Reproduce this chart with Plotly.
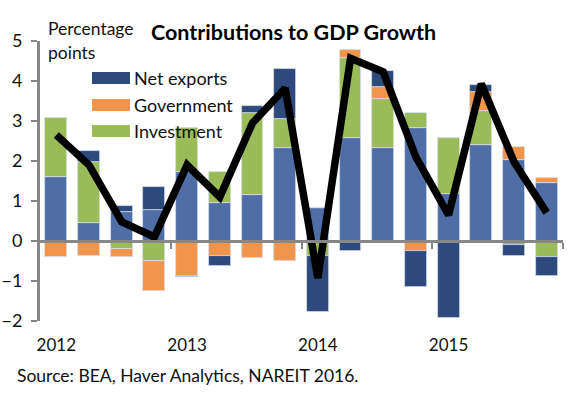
import plotly.graph_objects as go

quarters = ["2012Q1", "2012Q2", "2012Q3", "2012Q4",
            "2013Q1", "2013Q2", "2013Q3", "2013Q4",
            "2014Q1", "2014Q2", "2014Q3", "2014Q4",
            "2015Q1", "2015Q2", "2015Q3", "2015Q4"]
consumption = [1.61, 0.44, 0.72, 0.78, 1.73, 0.94, 1.15, 2.33,
               0.83, 2.58, 2.32, 2.83, 1.18, 2.40, 2.03, 1.44]
investment = [1.46, 1.54, -0.19, -0.51, 1.09, 0.78, 2.06, 0.71,
              -0.37, 1.99, 1.22, 0.38, 1.39, 0.85, -0.09, -0.41]
government = [-0.39, -0.38, -0.22, -0.74, -0.87, -0.38, -0.42, -0.50,
              0.00, 0.21, 0.32, -0.25, 0.00, 0.47, 0.31, 0.13]
net_exports = [-0.02, 0.27, 0.15, 0.58, -0.02, -0.24, 0.17, 1.25,
               -1.40, -0.24, 0.39, -0.89, -1.92, 0.18, -0.28, -0.46]
gdp_growth = [2.65, 1.90, 0.48, 0.10, 1.90, 1.10, 2.95, 3.82,
              -0.93, 4.57, 4.23, 2.10, 0.65, 3.93, 1.98, 0.71]
year_labels = ["2012", "2013", "2014", "2015"]

C_CONS = "#4F6EA6"
C_INV = "#9BBB59"
C_GOV = "#F0954B"
C_NX = "#2E4A7C"
AXIS_GRAY = "#878787"
FONT = "Lato"

x = list(range(len(quarters)))
year_pos = [i for i, q in enumerate(quarters) if q.endswith("Q1")]
boundaries = [i + 3.5 for i in year_pos]

W, H = 578, 397
L, R, T, B = 40, 15, 41, 76
pw, ph = W - L - R, H - T - B


def px(xp):
    return (xp - L) / pw


def py(yp):
    return (H - B - yp) / ph


fig = go.Figure()
edge = dict(color="rgba(215,222,235,0.9)", width=0.8)
for name, vals, col in [("Consumption", consumption, C_CONS),
                        ("Investment", investment, C_INV),
                        ("Government", government, C_GOV),
                        ("Net exports", net_exports, C_NX)]:
    fig.add_trace(go.Bar(x=x, y=vals, name=name, width=0.67,
                         marker=dict(color=col, line=edge),
                         showlegend=False, hoverinfo="skip"))

fig.add_trace(go.Scatter(x=x, y=gdp_growth, mode="lines", name="GDP growth",
                         line=dict(color="black", width=7.5),
                         xaxis="x2", yaxis="y", showlegend=False))

ymin, ymax = -2, 5
fig.update_layout(
    template="none",
    width=W, height=H,
    margin=dict(l=L, r=R, t=T, b=B, autoexpand=False),
    paper_bgcolor="white", plot_bgcolor="white",
    barmode="relative", bargap=0,
    font=dict(family=FONT, color="#111111"),
    xaxis=dict(range=[-0.5, len(x) - 0.5], tickvals=year_pos, ticktext=year_labels,
               ticks="", showline=False, showgrid=False, zeroline=False,
               tickfont=dict(size=17), ticklabelstandoff=12, automargin=False),
    xaxis2=dict(range=[-0.5, len(x) - 0.5], overlaying="x", anchor="free",
                position=(0 - ymin) / (ymax - ymin),
                tickvals=boundaries, ticks="outside", ticklen=6, tickwidth=2,
                tickcolor=AXIS_GRAY, showline=True, linecolor=AXIS_GRAY, linewidth=3,
                showticklabels=False, showgrid=False, zeroline=False, automargin=False),
    yaxis=dict(range=[ymin, ymax], dtick=1, ticks="outside", ticklen=6, tickwidth=2,
               tickcolor=AXIS_GRAY, showline=True, linecolor=AXIS_GRAY, linewidth=3,
               showgrid=False, zeroline=False, tickfont=dict(size=18),
               ticklabelstandoff=5, automargin=False),
)

annotations = [
    dict(text="<b>Contributions to GDP Growth</b>", x=px(293), y=py(32),
         xanchor="center", yanchor="middle", font=dict(size=21.5, color="black")),
    dict(text="Percentage", x=px(46), y=py(29), xanchor="left", yanchor="middle",
         font=dict(size=17.5)),
    dict(text="points", x=px(46), y=py(53), xanchor="left", yanchor="middle",
         font=dict(size=17.5)),
    dict(text="Source: BEA, Haver Analytics, NAREIT 2016.", x=px(15), y=py(375),
         xanchor="left", yanchor="middle", font=dict(size=17.5)),
]
shapes = []
legend_items = [("Net exports", C_NX, 78), ("Government", C_GOV, 105), ("Investment", C_INV, 131)]
for name, col, yc in legend_items:
    shapes.append(dict(type="rect", xref="paper", yref="paper",
                       x0=px(92), x1=px(130), y0=py(yc - 6), y1=py(yc + 6),
                       fillcolor=col, line=dict(width=0), layer="above"))
    annotations.append(dict(text=name, x=px(132), y=py(yc), xanchor="left",
                            yanchor="middle", font=dict(size=18)))
for a in annotations:
    a.update(xref="paper", yref="paper", showarrow=False)
fig.update_layout(annotations=annotations, shapes=shapes)

fig.write_html("out.html", config={"displayModeBar": False},
               post_script="document.body.style.margin='0px';document.body.style.overflow='hidden';")
